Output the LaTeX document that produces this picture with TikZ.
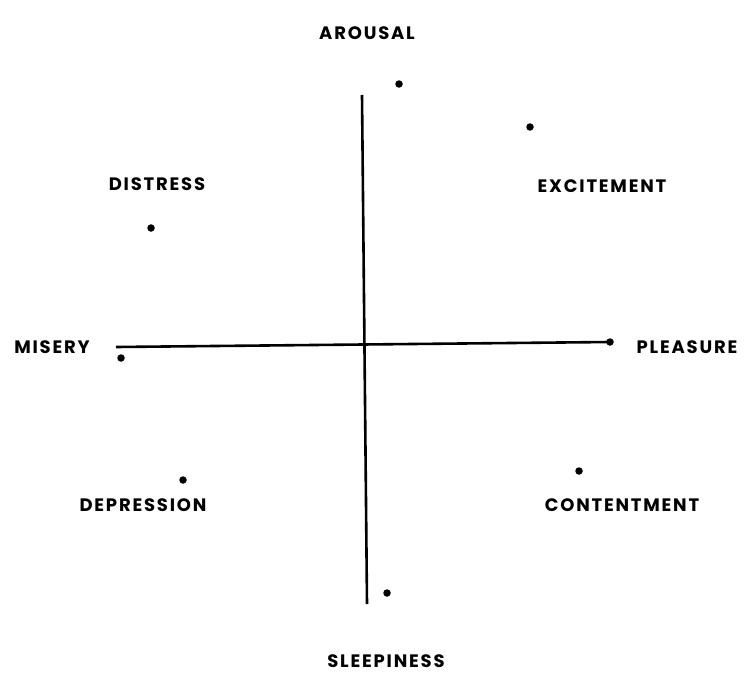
\documentclass[tikz,border=0pt]{standalone}
\usepackage{fontspec}
\setmainfont{Poppins}
\usetikzlibrary{positioning}

\begin{document}
\begin{tikzpicture}[x=1pt, y=-1pt,
        lbl/.style={font=\fontsize{18}{20}\selectfont\bfseries\addfontfeatures{LetterSpace=10}, inner sep=0pt},
        pt/.style={circle, fill=black, inner sep=0pt, minimum size=7.5pt},
        axis/.style={line width=2.6pt}
      ]
      \useasboundingbox (0,0) rectangle (744,693);
      % axis end points
      \coordinate (top)    at (362,95);
      \coordinate (bottom) at (367,604);
      \coordinate (left)   at (116,347);
      \node[pt] (pleasurept) at (610,342) {};

      % dots
      \node[pt] (arousalpt)     at (399,84)  {};
      \node[pt] (excitementpt)  at (530,127) {};
      \node[pt] (distresspt)    at (151,228) {};
      \node[pt] (miserypt)      at (121,358) {};
      \node[pt] (depressionpt)  at (183,480) {};
      \node[pt] (contentmentpt) at (579,471) {};
      \node[pt] (sleepinesspt)  at (387,593) {};

      % labels
      \node[lbl] (arousal)     at (367,33)  {AROUSAL};
      \node[lbl] (distress)    at (157,184) {DISTRESS};
      \node[lbl] (excitement)  at (602,186) {EXCITEMENT};
      \node[lbl] (misery)      at (52,347)  {MISERY};
      \node[lbl] (pleasure)    at (687,347) {PLEASURE};
      \node[lbl] (depression)  at (143,505) {DEPRESSION};
      \node[lbl] (contentment) at (622,505) {CONTENTMENT};
      \node[lbl] (sleepiness)  at (386,661) {SLEEPINESS};

      \draw[axis] (top) -- (bottom);
      \draw[axis] (left) -- (pleasurept.center);
    \end{tikzpicture}
\end{document}
